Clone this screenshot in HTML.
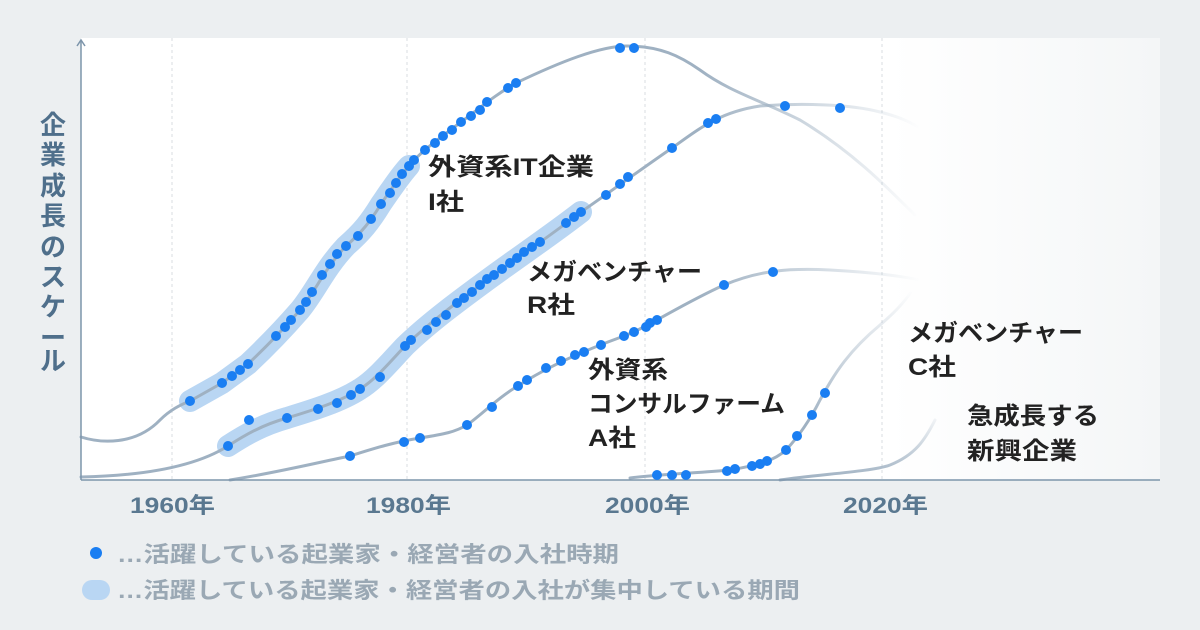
<!DOCTYPE html>
<html><head><meta charset="utf-8"><style>
html,body{margin:0;padding:0;background:#eceff1;}
svg{display:block;font-family:"Liberation Sans","Noto Sans CJK JP",sans-serif;}
</style></head><body>
<svg width="1200" height="630" viewBox="0 0 1200 630" xmlns="http://www.w3.org/2000/svg">
<defs>
<linearGradient id="bgf" x1="0" x2="1" y1="0" y2="0">
<stop offset="0" stop-color="#fff"/><stop offset="0.75" stop-color="#fff"/><stop offset="1" stop-color="#f4f6f7"/>
</linearGradient>
<linearGradient id="fade" gradientUnits="userSpaceOnUse" x1="700" x2="920" y1="0" y2="0">
<stop offset="0" stop-color="#9fb1c2"/><stop offset="1" stop-color="#9fb1c2" stop-opacity="0"/>
</linearGradient>
<linearGradient id="fadeV" gradientUnits="userSpaceOnUse" x1="0" x2="0" y1="480" y2="290">
<stop offset="0.3" stop-color="#9fb1c2"/><stop offset="1" stop-color="#9fb1c2" stop-opacity="0"/>
</linearGradient>
<linearGradient id="fadeN" gradientUnits="userSpaceOnUse" x1="0" x2="0" y1="480" y2="410">
<stop offset="0" stop-color="#9fb1c2"/><stop offset="1" stop-color="#9fb1c2" stop-opacity="0"/>
</linearGradient>
</defs>
<rect x="81" y="38" width="1079" height="442" fill="url(#bgf)"/>
<g stroke="#d8dde2" stroke-dasharray="3,3" stroke-width="1">
<line x1="172" y1="38" x2="172" y2="480"/><line x1="407" y1="38" x2="407" y2="480"/>
<line x1="645" y1="38" x2="645" y2="480"/><line x1="882" y1="38" x2="882" y2="480"/>
</g>
<g fill="none" stroke="#b9d6f3" stroke-width="22" stroke-linecap="round" stroke-linejoin="round">
<path d="M190,401 L222,383 L248,364 C265,348 280,333 300,310 C315,292 325,268 346,246 C362,232 370,222 381,204 C392,188 400,176 409,166"/>
<path d="M228,446 C245,435 262,425 287,418 C310,411 340,402 360,389 C375,380 390,362 405,346 C430,322 460,300 490,278 C520,256 550,236 581,212"/>
</g>
<g fill="none" stroke-width="3" stroke-linecap="round">
<path stroke="url(#fade)" d="M81,437 C100,443 135,446 160,420 C170,410 180,405 190,401 L222,383 L248,364 C265,348 280,333 300,310 C315,292 325,268 346,246 C362,232 370,222 381,204 C392,188 400,176 409,166 C420,152 440,138 461,122 C480,108 495,95 516,83 C560,62 600,46 627,46 C660,46 680,56 700,70 C730,92 760,100 800,120 C850,150 885,185 915,215"/>
<path stroke="url(#fade)" d="M81,477 C130,476 190,470 228,446 C245,435 262,425 287,418 C310,411 340,402 360,389 C375,380 390,362 405,346 C430,322 460,300 490,278 C520,256 550,236 581,212 C610,192 640,170 672,148 C700,128 720,112 760,106 C800,103 850,104 880,112 C900,117 910,122 920,128"/>
<path stroke="url(#fade)" d="M230,480 C280,472 320,462 350,456 C375,448 395,442 420,438 C445,434 455,432 467,425 C480,416 500,396 518,386 C545,368 580,352 624,336 C650,326 680,305 724,285 C760,270 790,268 830,270 C870,272 900,276 920,280"/>
<path stroke="url(#fadeV)" d="M630,478 C660,474 700,473 730,470 C760,465 775,460 786,450 C800,435 810,420 820,400 C835,372 850,350 880,325 C900,308 910,295 915,285"/>
<path stroke="url(#fadeN)" d="M780,480 C820,474 870,472 890,465 C915,455 925,440 935,420"/>
</g>
<g stroke="#7d95ab" stroke-width="1.5" fill="none">
<line x1="81" y1="40" x2="81" y2="480"/><line x1="81" y1="480" x2="1160" y2="480"/>
<path d="M77,46 L81,40 L85,46"/>
</g>
<g fill="#1a7ef2">
<circle cx="190" cy="401" r="5"/><circle cx="222" cy="383" r="5"/><circle cx="232" cy="376" r="5"/><circle cx="240" cy="370" r="5"/><circle cx="248" cy="364" r="5"/><circle cx="276" cy="336" r="5"/><circle cx="285" cy="327" r="5"/><circle cx="291" cy="320" r="5"/><circle cx="300" cy="310" r="5"/><circle cx="306" cy="302" r="5"/><circle cx="312" cy="292" r="5"/><circle cx="322" cy="275" r="5"/><circle cx="330" cy="264" r="5"/><circle cx="337" cy="254" r="5"/><circle cx="346" cy="246" r="5"/><circle cx="358" cy="236" r="5"/><circle cx="371" cy="219" r="5"/><circle cx="381" cy="204" r="5"/><circle cx="390" cy="193" r="5"/><circle cx="396" cy="183" r="5"/><circle cx="402" cy="174" r="5"/><circle cx="409" cy="166" r="5"/><circle cx="414" cy="160" r="5"/><circle cx="425" cy="150" r="5"/><circle cx="435" cy="143" r="5"/><circle cx="443" cy="136" r="5"/><circle cx="452" cy="130" r="5"/><circle cx="461" cy="122" r="5"/><circle cx="471" cy="116" r="5"/><circle cx="480" cy="110" r="5"/><circle cx="487" cy="102" r="5"/><circle cx="508" cy="88" r="5"/><circle cx="516" cy="83" r="5"/><circle cx="620" cy="48" r="5"/><circle cx="634" cy="48" r="5"/>
<circle cx="228" cy="446" r="5"/><circle cx="249" cy="420" r="5"/><circle cx="287" cy="418" r="5"/><circle cx="318" cy="409" r="5"/><circle cx="337" cy="403" r="5"/><circle cx="351" cy="395" r="5"/><circle cx="360" cy="389" r="5"/><circle cx="380" cy="377" r="5"/><circle cx="405" cy="346" r="5"/><circle cx="411" cy="340" r="5"/><circle cx="427" cy="330" r="5"/><circle cx="436" cy="322" r="5"/><circle cx="446" cy="315" r="5"/><circle cx="457" cy="303" r="5"/><circle cx="464" cy="298" r="5"/><circle cx="472" cy="292" r="5"/><circle cx="480" cy="285" r="5"/><circle cx="487" cy="279" r="5"/><circle cx="494" cy="275" r="5"/><circle cx="502" cy="269" r="5"/><circle cx="510" cy="263" r="5"/><circle cx="517" cy="258" r="5"/><circle cx="524" cy="252" r="5"/><circle cx="532" cy="247" r="5"/><circle cx="540" cy="242" r="5"/><circle cx="566" cy="223" r="5"/><circle cx="574" cy="217" r="5"/><circle cx="581" cy="212" r="5"/><circle cx="606" cy="195" r="5"/><circle cx="620" cy="184" r="5"/><circle cx="628" cy="177" r="5"/><circle cx="672" cy="148" r="5"/><circle cx="708" cy="123" r="5"/><circle cx="716" cy="119" r="5"/><circle cx="785" cy="106" r="5"/><circle cx="840" cy="108" r="5"/>
<circle cx="350" cy="456" r="5"/><circle cx="404" cy="442" r="5"/><circle cx="420" cy="438" r="5"/><circle cx="467" cy="425" r="5"/><circle cx="492" cy="407" r="5"/><circle cx="518" cy="386" r="5"/><circle cx="527" cy="380" r="5"/><circle cx="546" cy="368" r="5"/><circle cx="561" cy="361" r="5"/><circle cx="575" cy="355" r="5"/><circle cx="584" cy="352" r="5"/><circle cx="601" cy="345" r="5"/><circle cx="624" cy="336" r="5"/><circle cx="634" cy="332" r="5"/><circle cx="646" cy="327" r="5"/><circle cx="650" cy="323" r="5"/><circle cx="657" cy="320" r="5"/><circle cx="724" cy="285" r="5"/><circle cx="773" cy="272" r="5"/>
<circle cx="657" cy="475" r="5"/><circle cx="672" cy="475" r="5"/><circle cx="686" cy="475" r="5"/><circle cx="727" cy="471" r="5"/><circle cx="735" cy="469" r="5"/><circle cx="752" cy="466" r="5"/><circle cx="760" cy="464" r="5"/><circle cx="767" cy="461" r="5"/><circle cx="786" cy="450" r="5"/><circle cx="797" cy="436" r="5"/><circle cx="812" cy="415" r="5"/><circle cx="825" cy="393" r="5"/>
</g>
<g fill="#222" font-size="24" font-weight="bold">
<text x="428" y="175" textLength="166" lengthAdjust="spacingAndGlyphs">外資系IT企業</text><text x="428" y="210" textLength="36" lengthAdjust="spacingAndGlyphs">I社</text>
<text x="527" y="280" textLength="175" lengthAdjust="spacingAndGlyphs">メガベンチャー</text><text x="527" y="313" textLength="48" lengthAdjust="spacingAndGlyphs">R社</text>
<text x="588" y="378" textLength="80" lengthAdjust="spacingAndGlyphs">外資系</text><text x="588" y="412" textLength="197" lengthAdjust="spacingAndGlyphs">コンサルファーム</text><text x="588" y="446" textLength="48" lengthAdjust="spacingAndGlyphs">A社</text>
<text x="908" y="341" textLength="175" lengthAdjust="spacingAndGlyphs">メガベンチャー</text><text x="908" y="375" textLength="48" lengthAdjust="spacingAndGlyphs">C社</text>
<text x="967" y="424" textLength="132" lengthAdjust="spacingAndGlyphs">急成長する</text><text x="967" y="459" textLength="110" lengthAdjust="spacingAndGlyphs">新興企業</text>
</g>
<g fill="#5a7890" font-size="22" font-weight="bold">
<text x="130" y="513" textLength="85" lengthAdjust="spacingAndGlyphs">1960年</text><text x="366" y="513" textLength="85" lengthAdjust="spacingAndGlyphs">1980年</text><text x="605" y="513" textLength="85" lengthAdjust="spacingAndGlyphs">2000年</text><text x="843" y="513" textLength="85" lengthAdjust="spacingAndGlyphs">2020年</text>
</g>
<g fill="#4f6f8b" font-size="26" font-weight="bold" text-anchor="middle">
<text x="53" y="134">企</text><text x="53" y="164">業</text><text x="53" y="195">成</text><text x="53" y="225">長</text><text x="53" y="256">の</text><text x="53" y="286">ス</text><text x="53" y="316">ケ</text><text x="53" y="347">ー</text><text x="53" y="370">ル</text>
</g>
<circle cx="96" cy="553" r="6" fill="#1a7ef2"/>
<text x="117" y="562" fill="#9aa8b4" font-size="22" font-weight="bold" textLength="502" lengthAdjust="spacingAndGlyphs">…活躍している起業家・経営者の入社時期</text>
<rect x="82" y="580" width="28" height="20" rx="10" fill="#b9d6f3"/>
<text x="117" y="598" fill="#9aa8b4" font-size="22" font-weight="bold" textLength="683" lengthAdjust="spacingAndGlyphs">…活躍している起業家・経営者の入社が集中している期間</text>
</svg>
</body></html>
